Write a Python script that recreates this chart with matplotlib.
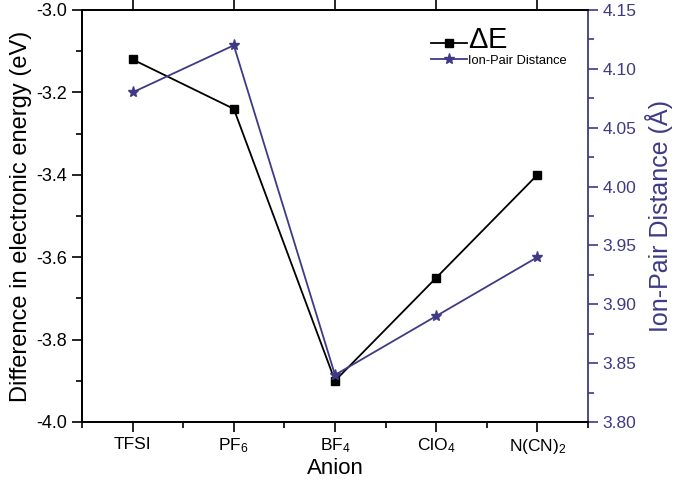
import matplotlib
matplotlib.use("Agg")
import matplotlib.pyplot as plt
from matplotlib.ticker import MultipleLocator, FixedLocator, FormatStrFormatter

plt.rcParams['font.family'] = ['Liberation Sans', 'DejaVu Sans']
plt.rcParams['mathtext.fontset'] = 'custom'
plt.rcParams['mathtext.rm'] = 'Liberation Sans'
plt.rcParams['mathtext.it'] = 'Liberation Sans'

anions = ['TFSI', 'PF$_6$', 'BF$_4$', 'ClO$_4$', 'N(CN)$_2$']
delta_e = [-3.12, -3.24, -3.90, -3.65, -3.40]
ion_pair = [4.08, 4.12, 3.84, 3.89, 3.94]

purple = '#3f3a85'
x = list(range(len(anions)))

fig = plt.figure(figsize=(6.75, 4.83), dpi=100)
ax = fig.add_axes([82/675, 1 - 422/483, (588-82)/675, (422-10)/483])
ax2 = ax.twinx()

l1, = ax.plot(x, delta_e, color='black', marker='s', markersize=6, lw=1.3, label=r'$\Delta$E')
l2, = ax2.plot(x, ion_pair, color=purple, marker='*', markersize=8, lw=1.3, label='Ion-Pair Distance')

ax.set_xlim(-0.5, 4.5)
ax.set_ylim(-4.0, -3.0)
ax2.set_ylim(3.80, 4.15)

ax.set_xticks(x)
ax.set_xticklabels(anions)
ax.xaxis.set_minor_locator(FixedLocator([-0.5, 0.5, 1.5, 2.5, 3.5, 4.5]))
ax.yaxis.set_major_locator(MultipleLocator(0.2))
ax.yaxis.set_minor_locator(MultipleLocator(0.1))
ax2.yaxis.set_major_locator(MultipleLocator(0.05))
ax2.yaxis.set_minor_locator(MultipleLocator(0.025))
ax.yaxis.set_major_formatter(FormatStrFormatter('%.1f'))
ax2.yaxis.set_major_formatter(FormatStrFormatter('%.2f'))

ax.tick_params(axis='x', which='major', direction='out', length=7, width=1.2, labelsize=12.5, top=True)
ax.tick_params(axis='x', which='minor', direction='out', length=4, width=1.2, top=False)
ax.tick_params(axis='y', which='major', direction='out', length=7, width=1.2, labelsize=13)
ax.tick_params(axis='y', which='minor', direction='out', length=4, width=1.2)
ax2.tick_params(axis='y', which='major', direction='out', length=7, width=1.2, labelsize=12.5,
                colors=purple)
ax2.tick_params(axis='y', which='minor', direction='out', length=4, width=1.2, colors=purple)

for s in ['left', 'bottom', 'top']:
    ax.spines[s].set_linewidth(1.3)
    ax2.spines[s].set_linewidth(1.3)
ax2.spines['right'].set_color(purple)
ax2.spines['right'].set_linewidth(1.3)
ax.spines['right'].set_visible(False)

ax.set_xlabel('Anion', fontsize=16, labelpad=2)
ax.set_ylabel('Difference in electronic energy (eV)', fontsize=17, labelpad=3)
ax2.set_ylabel('Ion-Pair Distance (Å)', fontsize=18, color=purple, labelpad=6)

leg = ax.legend(handles=[l1, l2], loc='upper left', bbox_to_anchor=(0.67, 0.985),
                frameon=False, handlelength=2.6, handletextpad=0.05, borderpad=0.2,
                labelspacing=0.05)
texts = leg.get_texts()
texts[0].set_fontsize(21)
texts[1].set_fontsize(9.3)

fig.savefig('out.png', dpi=100)
